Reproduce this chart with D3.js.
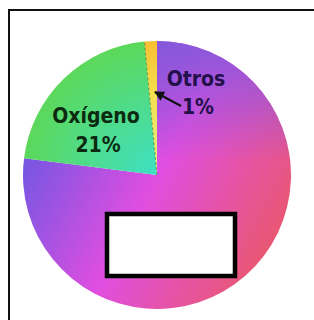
<!DOCTYPE html>
<html>
<head>
<meta charset="utf-8">
<script src="https://cdn.jsdelivr.net/npm/d3@7"></script>
<style>
  body { margin: 0; background: #fff; }
  svg { display: block; }
  .lbl { font-family: "DejaVu Sans Condensed", "DejaVu Sans", sans-serif; font-weight: bold; font-size: 21px; }
</style>
</head>
<body>
<div id="chart"></div>
<script>
// slices, clockwise from 12 o'clock (the big one has its label hidden under a white box)
const categories = ["Nitrógeno", "Oxígeno", "Otros"];
const values = [77, 21.5, 1.5];
const labelLines = [[], ["Oxígeno", "21%"], ["Otros", "1%"]];

const width = 314, height = 320;
const cx = 157, cy = 175, radius = 134;

const svg = d3.select("#chart").append("svg")
    .attr("width", width)
    .attr("height", height);

const defs = svg.append("defs");

// big slice: violet on the left, magenta in the middle, red-pink lower right
let g1 = defs.append("linearGradient").attr("id", "gBig")
    .attr("gradientUnits", "userSpaceOnUse")
    .attr("x1", 30).attr("y1", 150).attr("x2", 275).attr("y2", 280);
g1.append("stop").attr("offset", "0%").attr("stop-color", "#7656e2");
g1.append("stop").attr("offset", "45%").attr("stop-color", "#e04ee0");
g1.append("stop").attr("offset", "75%").attr("stop-color", "#e6549c");
g1.append("stop").attr("offset", "100%").attr("stop-color", "#ea5864");

// purple wash near the top of the big slice
let g1b = defs.append("linearGradient").attr("id", "gBigTop")
    .attr("gradientUnits", "userSpaceOnUse")
    .attr("x1", 0).attr("y1", 40).attr("x2", 0).attr("y2", 160);
g1b.append("stop").attr("offset", "0%").attr("stop-color", "#8458da").attr("stop-opacity", 0.95);
g1b.append("stop").attr("offset", "100%").attr("stop-color", "#8458da").attr("stop-opacity", 0);

let g2 = defs.append("radialGradient").attr("id", "gGreen")
    .attr("gradientUnits", "userSpaceOnUse")
    .attr("cx", cx).attr("cy", cy).attr("r", radius);
g2.append("stop").attr("offset", "0%").attr("stop-color", "#3ee0c4");
g2.append("stop").attr("offset", "45%").attr("stop-color", "#4cdc94");
g2.append("stop").attr("offset", "100%").attr("stop-color", "#5cd85a");

let g3 = defs.append("radialGradient").attr("id", "gYellow")
    .attr("gradientUnits", "userSpaceOnUse")
    .attr("cx", cx).attr("cy", cy).attr("r", radius);
g3.append("stop").attr("offset", "0%").attr("stop-color", "#e0f080");
g3.append("stop").attr("offset", "60%").attr("stop-color", "#f4e050");
g3.append("stop").attr("offset", "100%").attr("stop-color", "#f8be30");

const fills = ["url(#gBig)", "url(#gGreen)", "url(#gYellow)"];

// frame (only top and left edges show)
svg.append("path")
    .attr("d", "M9,320 V10 H314")
    .attr("fill", "none")
    .attr("stroke", "#111")
    .attr("stroke-width", 2);

const pie = d3.pie().sort(null).value(d => d)(values);

// slice path in page coordinates so the userSpace gradients line up
function slicePath(d) {
    let p = d3.path();
    p.moveTo(cx, cy);
    p.arc(cx, cy, radius, d.startAngle - Math.PI / 2, d.endAngle - Math.PI / 2);
    p.closePath();
    return p.toString();
}

svg.selectAll("path.slice")
    .data(pie)
    .join("path")
    .attr("class", "slice")
    .attr("d", slicePath)
    .attr("fill", (d, i) => fills[i]);

// top wash only over the big slice
svg.append("path")
    .attr("d", slicePath(pie[0]))
    .attr("fill", "url(#gBigTop)");

// dashed edge between Oxígeno and Otros
let a = pie[1].endAngle;
svg.append("line")
    .attr("x1", cx).attr("y1", cy)
    .attr("x2", cx + radius * Math.sin(a)).attr("y2", cy - radius * Math.cos(a))
    .attr("stroke", "#4a7a30")
    .attr("stroke-width", 1)
    .attr("stroke-dasharray", "3,2")
    .attr("opacity", 0.7);

// labels
svg.append("text").attr("class", "lbl")
    .attr("text-anchor", "middle")
    .attr("fill", "#0c2a10")
    .selectAll("tspan")
    .data(labelLines[1])
    .join("tspan")
    .attr("x", (d, i) => i ? 98 : 96)
    .attr("y", (d, i) => i ? 152 : 123)
    .text(d => d);

svg.append("text").attr("class", "lbl")
    .attr("text-anchor", "middle")
    .attr("fill", "#24104a")
    .selectAll("tspan")
    .data(labelLines[2])
    .join("tspan")
    .attr("x", (d, i) => i ? 198 : 196)
    .attr("y", (d, i) => i ? 114 : 86)
    .text(d => d);

// arrow pointing at the tiny slice
defs.append("marker").attr("id", "arr")
    .attr("viewBox", "0 0 10 10")
    .attr("refX", 9).attr("refY", 5)
    .attr("markerWidth", 5).attr("markerHeight", 5)
    .attr("orient", "auto")
    .append("path").attr("d", "M0,0 L10,5 L0,10 z").attr("fill", "#111");
svg.append("line")
    .attr("x1", 181).attr("y1", 106)
    .attr("x2", 155).attr("y2", 92)
    .attr("stroke", "#111")
    .attr("stroke-width", 2)
    .attr("marker-end", "url(#arr)");

// white box over the big slice's label
svg.append("rect")
    .attr("x", 107).attr("y", 214)
    .attr("width", 128).attr("height", 62)
    .attr("fill", "#fff")
    .attr("stroke", "#000")
    .attr("stroke-width", 4.5);
</script>
</body>
</html>
